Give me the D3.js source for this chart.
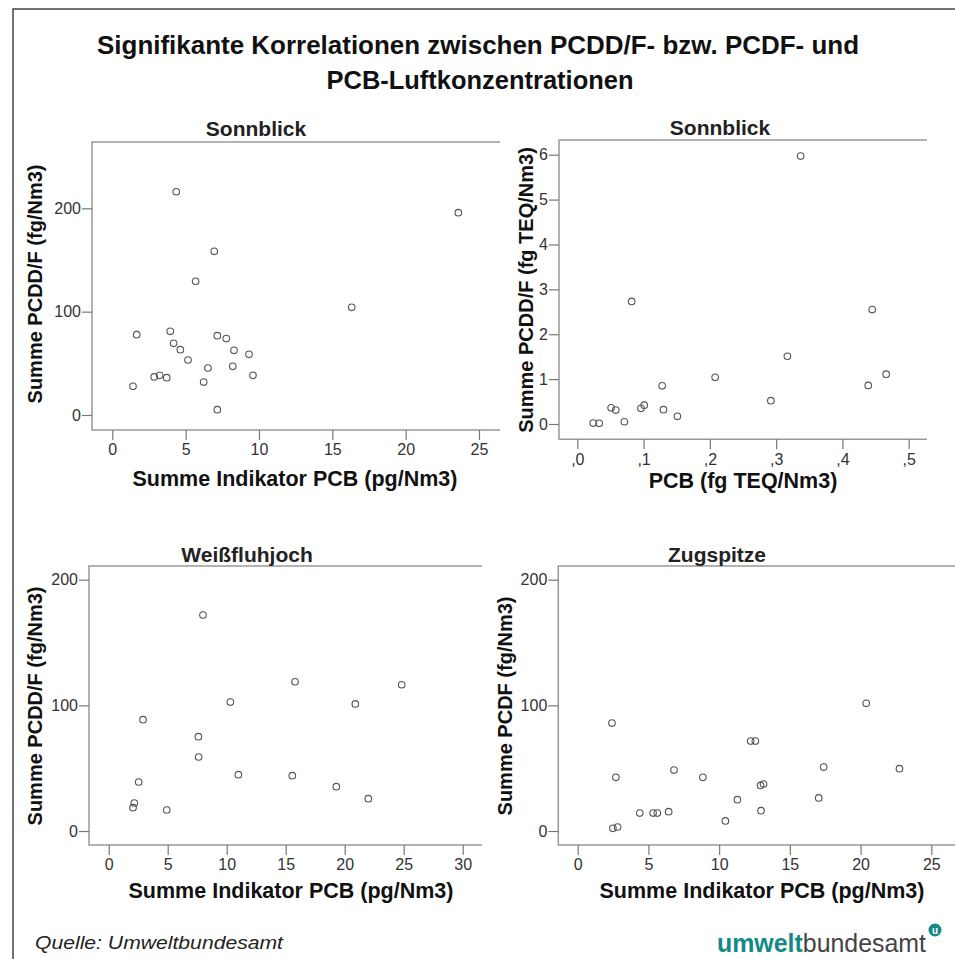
<!DOCTYPE html>
<html>
<head>
<meta charset="utf-8">
<script src="https://cdn.jsdelivr.net/npm/d3@7"></script>
<style>
  body { margin: 0; background: #fff; }
  text { font-family: Arial, "Liberation Sans", sans-serif; }
</style>
</head>
<body>
<div id="chart-area"></div>
<script>
// page size
width = 955;
height = 959

// Sonnblick: Summe Indikator PCB vs Summe PCDD/F
let sonnPcb = [4.36, 23.59, 6.95, 5.68, 16.32, 1.66, 3.95, 7.16, 7.77, 4.18, 4.64, 8.30, 9.32, 5.16, 6.52, 8.21, 9.59, 2.86, 3.23, 3.71, 6.23, 1.41, 7.16]
let sonnPcdd = [216, 195.8, 158.4, 129.4, 104.2, 77.7, 81.0, 76.8, 73.9, 69.4, 63.2, 62.6, 58.7, 53.2, 45.5, 47.1, 38.4, 36.8, 38.4, 36.1, 31.9, 27.7, 5.2]

// Sonnblick: PCB TEQ vs PCDD/F TEQ
let sonnPcbTeq = [0.337, 0.082, 0.445, 0.317, 0.466, 0.208, 0.439, 0.128, 0.292, 0.101, 0.096, 0.051, 0.058, 0.130, 0.151, 0.071, 0.024, 0.033]
let sonnPcddTeq = [5.97, 2.73, 2.55, 1.51, 1.11, 1.04, 0.86, 0.85, 0.52, 0.42, 0.35, 0.36, 0.31, 0.32, 0.17, 0.05, 0.02, 0.015]

// Weißfluhjoch
let weissPcb = [7.99, 15.79, 24.83, 10.31, 20.90, 2.91, 7.60, 7.62, 10.99, 15.56, 19.29, 2.54, 22.0, 2.17, 2.06, 4.92]
let weissPcdd = [171.9, 118.8, 116.4, 102.6, 101.1, 88.6, 75.1, 58.9, 44.8, 44.0, 35.3, 39.0, 25.7, 22.3, 18.6, 16.7]

// Zugspitze
let zugPcb = [20.40, 2.42, 12.23, 12.56, 17.39, 22.75, 6.81, 2.70, 8.85, 12.93, 13.14, 11.29, 17.04, 12.96, 4.39, 5.33, 5.63, 6.43, 10.44, 2.49, 2.82]
let zugPcdf = [101.6, 85.9, 71.6, 71.6, 50.9, 49.6, 48.5, 42.7, 42.7, 36.3, 37.4, 24.9, 26.3, 16.2, 14.3, 14.3, 14.3, 15.4, 8.0, 2.1, 3.2]

// tick values
let ticksPcb25 = [0, 5, 10, 15, 20, 25]
let ticksPcb30 = [0, 5, 10, 15, 20, 25, 30]
let ticksTeqX = [0, 0.1, 0.2, 0.3, 0.4, 0.5]
let ticksTeqY = [0, 1, 2, 3, 4, 5, 6]
let ticksConc = [0, 100, 200]

// Create SVG drawing area
svg = d3.select("#chart-area")
  .append("svg")
  .attr("width", width)
  .attr("height", height)

// outer frame (runs off the right and bottom edge)
svg.append("rect")
  .attr("x", 13)
  .attr("y", 9)
  .attr("width", 1000)
  .attr("height", 1000)
  .attr("fill", "none")
  .attr("stroke", "#444")
  .attr("stroke-width", 1.5)

// main title
let title = svg.append("g").attr("font-weight", "bold").attr("font-size", 25).attr("text-anchor", "middle").attr("fill", "#111")
title.append("text")
  .attr("x", 478).attr("y", 54)
  .attr("textLength", 762).attr("lengthAdjust", "spacingAndGlyphs")
  .text("Signifikante Korrelationen zwischen PCDD/F- bzw. PCDF- und")
title.append("text")
  .attr("x", 480).attr("y", 89)
  .attr("textLength", 307).attr("lengthAdjust", "spacingAndGlyphs")
  .text("PCB-Luftkonzentrationen")

// one panel = box + axes + points
function Panel(p) {
  let g = svg.append("g")

  let xScale = d3.scaleLinear().domain(p.xDom).range(p.xRange)
  let yScale = d3.scaleLinear().domain(p.yDom).range(p.yRange)

  // box (open on the right side, like the cropped original)
  g.append("path")
    .attr("d", "M" + p.right + "," + p.top + "H" + p.left + "V" + p.bottom + "H" + p.right)
    .attr("fill", "none")
    .attr("stroke", "#999")
    .attr("stroke-width", 1.5)

  let xAxis = d3.axisBottom(xScale).tickValues(p.xTicks).tickSize(10).tickPadding(4).tickFormat(p.xFmt)
  let yAxis = d3.axisLeft(yScale).tickValues(p.yTicks).tickSize(10).tickPadding(1).tickFormat(d3.format("d"))

  let gx = g.append("g")
    .attr("transform", "translate(0," + p.bottom + ")")
    .call(xAxis)
  let gy = g.append("g")
    .attr("transform", "translate(" + p.left + ",0)")
    .call(yAxis)

  ;[gx, gy].forEach(a => {
    a.select(".domain").remove()
    a.selectAll(".tick line").attr("stroke", "#777").attr("stroke-width", 1.2)
    a.selectAll(".tick text").attr("fill", "#333").attr("font-size", 16)
      .attr("font-family", "Arial, 'Liberation Sans', sans-serif")
  })

  // points
  g.selectAll("circle")
    .data(p.xs.map((x, i) => [x, p.ys[i]]))
    .enter().append("circle")
    .attr("cx", d => xScale(d[0]))
    .attr("cy", d => yScale(d[1]))
    .attr("r", 3.3)
    .attr("fill", "none")
    .attr("stroke", "#555")
    .attr("stroke-width", 1.1)

  // panel title
  g.append("text")
    .attr("x", p.titleX).attr("y", p.titleY)
    .attr("text-anchor", "middle")
    .attr("font-weight", "bold").attr("font-size", 21).attr("fill", "#222")
    .text(p.title)

  // x axis title
  g.append("text")
    .attr("x", p.xLabX).attr("y", p.xLabY)
    .attr("text-anchor", "middle")
    .attr("font-weight", "bold").attr("font-size", 21.5).attr("fill", "#111")
    .text(p.xLabel)

  // y axis title
  g.append("text")
    .attr("transform", "translate(" + p.yLabX + "," + p.yLabY + ") rotate(-90)")
    .attr("text-anchor", "middle")
    .attr("font-weight", "bold").attr("font-size", 20).attr("fill", "#111")
    .text(p.yLabel)
}

let intFmt = d3.format("d")
let commaFmt = d => "," + Math.round(d * 10)

Panel({
  xs: sonnPcb, ys: sonnPcdd,
  xDom: [0, 25], xRange: [112.3, 479], yDom: [0, 200], yRange: [415, 208.3],
  left: 92, top: 142, bottom: 430, right: 500,
  xTicks: ticksPcb25, yTicks: ticksConc, xFmt: intFmt,
  title: "Sonnblick", titleX: 256, titleY: 136,
  xLabel: "Summe Indikator PCB (pg/Nm3)", xLabX: 295, xLabY: 486,
  yLabel: "Summe PCDD/F (fg/Nm3)", yLabX: 42, yLabY: 284
})

Panel({
  xs: sonnPcbTeq, ys: sonnPcddTeq,
  xDom: [0, 0.5], xRange: [577.3, 908.7], yDom: [0, 6], yRange: [424, 154.7],
  left: 559, top: 140, bottom: 439.3, right: 927,
  xTicks: ticksTeqX, yTicks: ticksTeqY, xFmt: commaFmt,
  title: "Sonnblick", titleX: 720, titleY: 135,
  xLabel: "PCB (fg TEQ/Nm3)", xLabX: 743, xLabY: 488,
  yLabel: "Summe PCDD/F (fg TEQ/Nm3)", yLabX: 533, yLabY: 290
})

Panel({
  xs: weissPcb, ys: weissPcdd,
  xDom: [0, 30], xRange: [108.7, 462.7], yDom: [0, 200], yRange: [831, 579.7],
  left: 89, top: 566, bottom: 845, right: 482,
  xTicks: ticksPcb30, yTicks: ticksConc, xFmt: intFmt,
  title: "Weißfluhjoch", titleX: 247, titleY: 562,
  xLabel: "Summe Indikator PCB (pg/Nm3)", xLabX: 291, xLabY: 898,
  yLabel: "Summe PCDD/F (fg/Nm3)", yLabX: 42, yLabY: 706
})

Panel({
  xs: zugPcb, ys: zugPcdf,
  xDom: [0, 25], xRange: [577.7, 931.3], yDom: [0, 200], yRange: [831, 579.7],
  left: 558.3, top: 566, bottom: 845, right: 955,
  xTicks: ticksPcb25, yTicks: ticksConc, xFmt: intFmt,
  title: "Zugspitze", titleX: 717, titleY: 562,
  xLabel: "Summe Indikator PCB (pg/Nm3)", xLabX: 762, xLabY: 898,
  yLabel: "Summe PCDF (fg/Nm3)", yLabX: 512, yLabY: 706
})

// source note
svg.append("text")
  .attr("x", 35).attr("y", 949)
  .attr("font-style", "italic").attr("font-size", 18).attr("fill", "#222")
  .attr("textLength", 248).attr("lengthAdjust", "spacingAndGlyphs")
  .text("Quelle: Umweltbundesamt")

// logo
let logo = svg.append("text")
  .attr("x", 717).attr("y", 952)
  .attr("font-family", "'Open Sans', sans-serif").attr("font-size", 25)
  .attr("textLength", 209).attr("lengthAdjust", "spacingAndGlyphs")
logo.append("tspan").attr("font-weight", "bold").attr("fill", "#128a86").text("umwelt")
logo.append("tspan").attr("fill", "#444").text("bundesamt")

svg.append("circle")
  .attr("cx", 935).attr("cy", 930).attr("r", 6.5)
  .attr("fill", "#128a86")
svg.append("text")
  .attr("x", 935).attr("y", 933.5)
  .attr("text-anchor", "middle")
  .attr("font-family", "'Open Sans', sans-serif").attr("font-weight", "bold")
  .attr("font-size", 10).attr("fill", "#fff")
  .text("u")
</script>
</body>
</html>
